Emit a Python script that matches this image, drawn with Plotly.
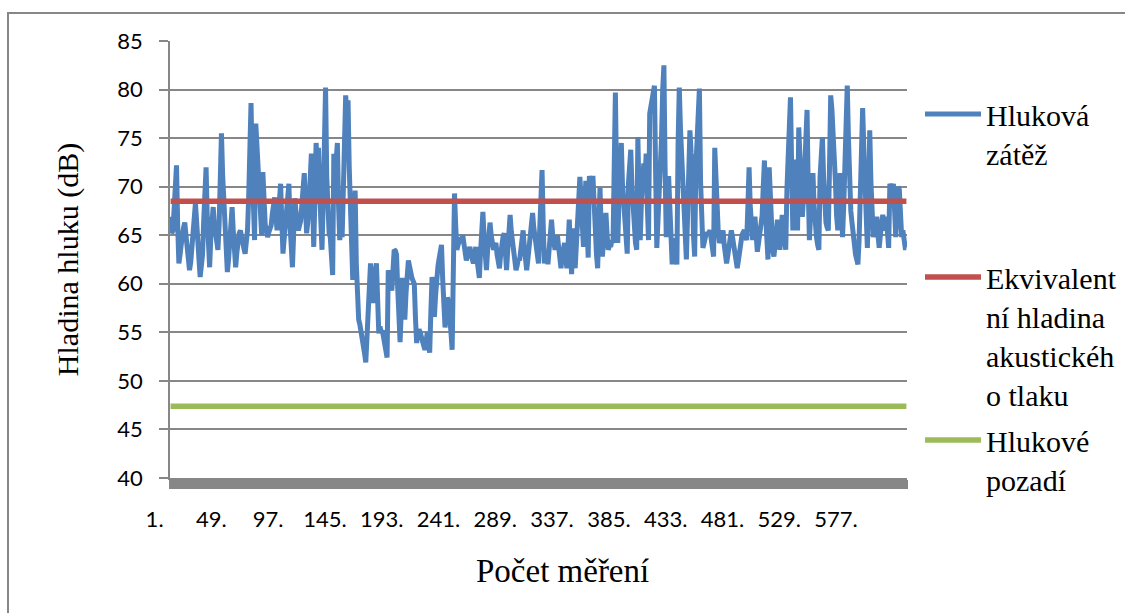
import plotly.graph_objects as go

hlukova_zatez = [
    66.9, 65.2, 65.5, 67.5, 69.8, 72.2, 66.0, 62.1, 63.0, 64.5,
    65.1, 65.8, 66.3, 65.0, 64.0, 62.8, 61.4, 62.2, 63.5, 65.8,
    67.0, 68.3, 66.4, 65.0, 62.5, 60.7, 61.8, 63.0, 66.5, 69.0,
    72.0, 66.8, 63.5, 61.7, 64.8, 66.2, 67.9, 66.1, 65.0, 64.2,
    63.5, 66.0, 70.5, 75.5, 71.2, 68.0, 64.5, 62.6, 61.2, 62.5,
    64.0, 66.2, 67.9, 65.4, 63.0, 61.7, 63.2, 64.5, 65.2, 65.5,
    64.6, 64.0, 63.6, 63.1, 64.2, 65.5, 68.9, 74.0, 78.6, 72.0,
    67.5, 64.5, 76.5, 74.2, 72.8, 71.0, 68.0, 65.0, 71.5, 68.3,
    66.1, 65.5, 64.8, 65.3, 65.7, 66.0, 67.2, 68.1, 68.9, 67.0,
    65.5, 66.8, 68.5, 70.3, 66.5, 63.1, 64.6, 66.0, 67.0, 68.9,
    70.3, 66.0, 63.2, 61.7, 65.0, 68.8, 67.4, 66.3, 65.5, 66.0,
    66.5, 68.2, 70.0, 71.4, 68.0, 65.2, 66.4, 68.0, 70.8, 73.4,
    68.4, 63.8, 69.0, 74.5, 72.3, 74.0, 69.5, 66.0, 63.5, 68.5,
    74.8, 80.2, 71.0, 66.0, 65.2, 64.8, 62.5, 60.9, 73.4, 70.2,
    72.8, 74.5, 68.0, 64.5, 65.6, 64.8, 69.5, 75.0, 79.4, 77.5,
    78.9, 72.0, 66.0, 63.0, 60.4, 64.2, 69.6, 62.0, 57.6, 56.3,
    55.8, 55.2, 54.6, 53.5, 52.8, 51.9, 54.0, 57.0, 59.8, 62.1,
    60.2, 58.0, 60.4, 61.2, 62.1, 58.5, 54.9, 55.6, 55.0, 55.2,
    54.4, 53.5, 53.0, 52.4, 61.4, 60.2, 59.9, 59.3, 61.5, 63.5,
    63.4, 63.0, 59.5, 56.8, 54.0, 57.2, 60.6, 58.3, 56.3, 59.0,
    61.0, 62.4, 61.8, 61.0, 60.6, 60.3, 60.0, 56.5, 53.9, 54.8,
    55.3, 55.0, 54.3, 54.0, 53.6, 53.2, 54.1, 55.0, 53.8, 52.9,
    57.0, 60.7, 58.5, 56.6, 58.8, 61.0, 61.8, 62.6, 63.3, 64.0,
    60.5, 57.8, 55.5, 57.0, 58.6, 58.0, 57.0, 55.0, 53.2, 61.5,
    69.3, 66.0, 63.5, 64.0, 64.5, 64.8, 64.2, 65.0, 64.1, 63.2,
    62.4, 63.0, 63.5, 63.8, 63.0, 62.6, 62.1, 63.0, 63.8, 62.5,
    61.5, 60.6, 63.2, 65.5, 67.4, 64.8, 62.7, 61.4, 63.5, 65.0,
    66.3, 65.0, 64.1, 63.5, 63.9, 64.2, 63.0, 62.3, 61.6, 63.0,
    64.2, 64.8, 65.2, 63.0, 61.4, 63.5, 65.6, 67.1, 65.4, 64.2,
    63.0, 62.1, 61.4, 61.9, 62.6, 62.4, 63.6, 64.7, 65.5, 63.8,
    62.3, 61.4, 62.5, 63.8, 65.2, 66.4, 67.3, 65.8, 64.7, 63.8,
    63.0, 62.1, 65.5, 69.0, 71.7, 66.0, 62.1, 62.8, 63.4, 62.0,
    63.5, 65.2, 66.6, 65.0, 64.2, 63.5, 64.3, 65.0, 63.8, 62.5,
    61.6, 62.8, 63.7, 64.2, 62.7, 61.6, 64.0, 66.6, 63.5, 61.0,
    65.7, 63.0, 61.6, 64.0, 67.5, 69.8, 71.0, 68.5, 66.0, 63.8,
    67.5, 70.6, 66.0, 62.7, 71.1, 70.2, 69.5, 71.1, 67.4, 64.5,
    63.0, 61.6, 66.0, 69.9, 65.5, 62.8, 64.5, 66.2, 67.3, 65.0,
    63.5, 64.0, 63.8, 64.5, 64.2, 72.0, 79.7, 70.5, 64.2, 68.5,
    71.8, 74.5, 70.2, 68.0, 66.9, 65.0, 63.1, 70.3, 72.0, 73.8,
    70.0, 67.5, 65.0, 64.2, 63.5, 75.1, 69.0, 64.5, 68.5, 70.8,
    72.4, 70.5, 73.4, 68.0, 64.5, 77.5, 78.2, 79.0, 79.8, 80.4,
    71.5, 63.7, 66.5, 68.8, 70.6, 75.0, 80.0, 82.5, 72.0, 64.8,
    67.5, 71.1, 68.0, 65.2, 62.0, 63.5, 64.7, 63.0, 62.0, 74.5,
    80.2, 76.0, 73.0, 70.6, 66.0, 63.0, 62.5, 67.0, 72.5, 75.8,
    73.5, 72.4, 65.0, 62.8, 71.9, 75.0, 78.0, 80.1, 70.5, 66.0,
    63.7, 64.2, 64.8, 65.3, 65.0, 65.2, 65.5, 64.6, 63.5, 62.8,
    74.0, 70.0, 66.6, 65.2, 64.2, 64.8, 65.3, 65.5, 64.0, 62.8,
    62.1, 62.9, 63.8, 64.6, 65.5, 64.8, 64.0, 63.7, 62.5, 61.6,
    62.4, 63.5, 64.5, 65.0, 65.3, 65.5, 65.0, 64.5, 68.0, 72.0,
    68.0, 65.3, 64.5, 65.8, 66.9, 65.0, 63.3, 64.2, 65.0, 65.5,
    67.0, 70.0, 72.7, 67.0, 63.5, 62.5, 72.0, 69.5, 64.8, 63.5,
    62.8, 64.0, 65.5, 66.6, 65.0, 63.5, 65.0, 67.1, 65.5, 64.2,
    63.5, 69.7, 74.0, 77.5, 79.2, 72.0, 65.5, 68.0, 72.8, 68.0,
    65.5, 76.1, 72.0, 69.0, 66.9, 68.8, 71.7, 75.0, 77.9, 70.0,
    64.5, 67.0, 69.5, 71.4, 68.0, 65.5, 64.8, 64.0, 63.5, 71.0,
    73.2, 75.1, 71.0, 68.0, 66.3, 65.8, 65.5, 72.0, 79.4, 78.0,
    76.0, 74.2, 70.5, 67.0, 65.5, 68.0, 71.4, 68.5, 64.8, 68.0,
    72.8, 76.5, 80.4, 75.0, 70.0, 67.5, 66.3, 65.0, 63.8, 63.0,
    62.5, 62.0, 64.5, 68.9, 73.0, 78.1, 74.0, 70.0, 66.6, 63.7,
    68.0, 75.8, 70.5, 66.0, 64.8, 65.5, 66.2, 66.9, 65.0, 63.7,
    65.0, 66.0, 67.1, 66.0, 65.5, 66.9, 65.0, 63.7, 70.3, 70.0,
    69.5, 70.3, 67.0, 64.8, 67.5, 70.0, 69.7, 66.0, 64.8, 65.5,
    64.5, 63.7, 63.7,
]
ekvivalentni_hladina = 68.5   # dB
hlukove_pozadi = 47.4         # dB

tick_values = [1, 49, 97, 145, 193, 241, 289, 337, 385, 433, 481, 529, 577]
tick_labels = ["1.", "49.", "97.", "145.", "193.", "241.", "289.", "337.",
               "385.", "433.", "481.", "529.", "577."]

n = len(hlukova_zatez)
mereni = list(range(1, n + 1))

W, H = 1125, 613
L, R, T, B = 170, 218, 41, 135
pw, ph = W - L - R, H - T - B

GRID = "#878787"
serif = "Liberation Serif, Times New Roman, serif"
sans = "Lato, Carlito, sans-serif"

fig = go.Figure()
fig.add_trace(go.Scatter(
    x=mereni, y=hlukova_zatez, mode="lines", name="Hluková<br>zátěž<br> <br> ",
    line=dict(color="#4F81BD", width=5), legendgroup="a"))
fig.add_trace(go.Scatter(
    x=mereni, y=[ekvivalentni_hladina] * n, mode="lines",
    name="Ekvivalent<br>ní hladina<br>akustickéh<br>o tlaku",
    line=dict(color="#C0504D", width=5.5), legendgroup="b"))
fig.add_trace(go.Scatter(
    x=mereni, y=[hlukove_pozadi] * n, mode="lines", name="Hlukové<br>pozadí",
    line=dict(color="#9BBB59", width=5.5), legendgroup="c"))

fig.update_layout(
    width=W, height=H,
    margin=dict(l=L, r=R, t=T, b=B, pad=0, autoexpand=False),
    paper_bgcolor="white", plot_bgcolor="white",
    font=dict(family=serif, color="black"),
    showlegend=True,
    legend=dict(
        x=(920 - L) / pw, xanchor="left",
        y=(478 - 88) / ph, yanchor="top",
        font=dict(family=serif, size=30, color="black"),
        valign="top", tracegroupgap=4, itemwidth=56,
        bgcolor="rgba(0,0,0,0)",
    ),
    xaxis=dict(
        range=[0.5, n + 0.5],
        showgrid=False, zeroline=False,
        showline=True, linecolor=GRID, linewidth=1.5,
        tickmode="array", tickvals=tick_values, ticktext=tick_labels,
        ticks="outside", ticklen=9, tickwidth=2.2, tickcolor=GRID,
        ticklabelshift=-16, ticklabelstandoff=12,
        tickfont=dict(family=sans, size=22, color="black"),
        minor=dict(ticks="outside", ticklen=9, tickwidth=2.2, tickcolor=GRID,
                   tickmode="linear", tick0=0.5, dtick=1, showgrid=False),
    ),
    yaxis=dict(
        range=[40, 85], dtick=5, tick0=40,
        showgrid=True, gridcolor=GRID, gridwidth=1.5,
        zeroline=False,
        showline=True, linecolor=GRID, linewidth=1.5,
        ticks="outside", ticklen=9, tickwidth=1.5, tickcolor=GRID,
        ticklabelstandoff=12,
        tickfont=dict(family=sans, size=22, color="black"),
        title=dict(text="Hladina hluku (dB)", font=dict(family=serif, size=30),
                   standoff=30),
    ),
    annotations=[dict(
        text="Počet měření", xref="paper", yref="paper",
        x=(562 - L) / pw, y=(478 - 571) / ph, xanchor="center", yanchor="middle",
        showarrow=False, font=dict(family=serif, size=33, color="black"),
    )],
    shapes=[dict(
        type="rect", xref="paper", yref="paper",
        x0=(8 - L) / pw, x1=(1135 - L) / pw,
        y0=(478 - 625) / ph, y1=(478 - 13) / ph,
        line=dict(color=GRID, width=2), fillcolor="rgba(0,0,0,0)", layer="below",
    )],
)

fig.write_html("out.html")
